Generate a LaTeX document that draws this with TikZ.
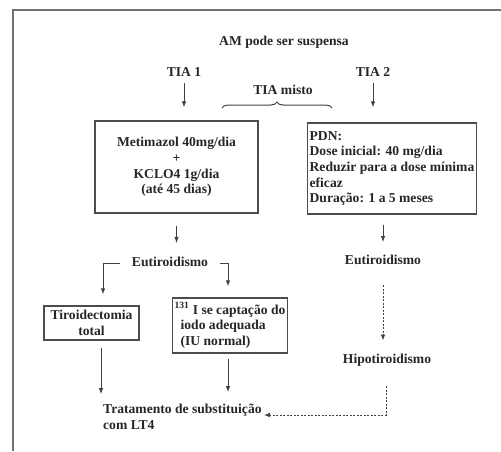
\documentclass[tikz,border=0pt]{standalone}
\usepackage{fontspec}
\setmainfont{Liberation Serif}
\usepackage{tikz}
\usetikzlibrary{shapes,arrows,arrows.meta}
\usetikzlibrary{calc}
\usetikzlibrary{decorations.pathreplacing}

\begin{document}
\begin{tikzpicture}[x=1pt,y=-1pt]
\tikzstyle{lbl}=[inner sep=2pt,text=black!85,font=\fontsize{13.6}{15.6}\selectfont\bfseries]
\tikzstyle{box}=[lbl,draw=black!70,line width=1.2pt,rectangle]
\tikzstyle{arr}=[draw=black!75,line width=1pt,-{Latex[length=6pt,width=4.5pt]}]
\tikzstyle{darr}=[arr,dash pattern=on 2pt off 1.5pt]
\useasboundingbox (0,0) rectangle (501,451);
\draw[black!55,line width=1.6pt] (13,451) -- (13,10) -- (501,10);
\node[lbl] (am) at (284,42) {AM pode ser suspensa};
\node[lbl] (tia1) at (184,72) {TIA 1};
\node[lbl] (tia2) at (373,72) {TIA 2};
\node[lbl] (misto) at (283,90) {TIA misto};
\coordinate (brl) at (222,108);
\coordinate (brr) at (332,108);
\draw[black!75,line width=1pt,decorate,decoration={brace,amplitude=6pt}] (brl) -- (brr);
\node[box,minimum width=163,minimum height=92,align=center] (met) at (176.5,167)
  {Metimazol 40mg/dia\\+\\KCLO4 1g/dia\\(até 45 dias)};
\node[box,minimum width=168,minimum height=91,align=left] (pdn) at (392,168.5)
  {PDN:\\Dose inicial: 40 mg/dia\\Reduzir para a dose mínima\\eficaz\\Duração: 1 a 5 meses};
\node[lbl] (eut1) at (170,262) {Eutiroidismo};
\node[lbl] (eut2) at (383,260) {Eutiroidismo};
\node[box,minimum width=95,minimum height=34,align=center] (tir) at (91.5,323) {Tiroidectomia\\total};
\node[box,minimum width=114,minimum height=55,align=left] (iod) at (230,325.5)
  {\textsuperscript{131} I se captação do\\\hspace{6pt}iodo adequada\\\hspace{6pt}(IU normal)};
\node[lbl] (hipo) at (387,360) {Hipotiroidismo};
\node[lbl,align=left,anchor=west] (trat) at (101,417) {Tratamento de substituição\\com LT4};
\coordinate (e1l) at (120,263);
\coordinate (e1r) at (220,263);
\coordinate (hc) at (386,415);
\draw[arr,shorten <=4pt,shorten >=13pt] (tia1.south) -- (tia1.south |- met.north);
\draw[arr,shorten <=4pt,shorten >=15pt] (tia2.south) -- (tia2.south |- pdn.north);
\draw[arr,shorten <=12pt,shorten >=12pt] (met.south) -- (met.south |- eut1.north);
\draw[arr,shorten <=10pt,shorten >=11pt] (pdn.south -| eut2) -- (eut2.north);
\draw[arr] (e1l) -| ([xshift=11.5pt,yshift=11pt]tir.north);
\draw[arr] (e1r) -| ([xshift=-2pt,yshift=11pt]iod.north);
\draw[arr,shorten <=7pt,shorten >=8pt] (tir.south -| trat.west) -- (trat.north west);
\draw[arr,shorten <=5pt,shorten >=10pt] ([xshift=-2pt]iod.south) -- ([xshift=-2pt]iod.south |- trat.north);
\draw[darr,shorten <=18pt,shorten >=11pt] (eut2.south) -- (eut2.south |- hipo.north);
\draw[darr,shorten <=18pt] (hipo.south -| hc) -- (hc) -- (hc -| trat.east);
\end{tikzpicture}
\end{document}
